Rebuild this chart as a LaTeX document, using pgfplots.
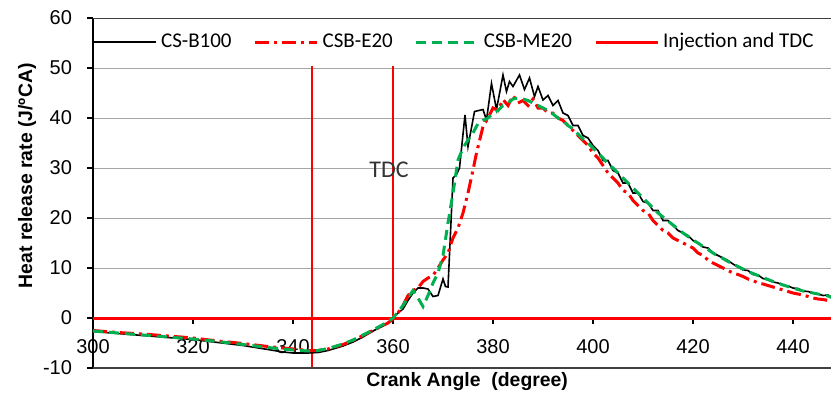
\documentclass[border=0pt]{standalone}
\usepackage{fontspec}
\setmainfont{Liberation Sans}
\newfontfamily\calibri{Carlito}
\usepackage{pgfplots}
\pgfplotsset{compat=1.18}
\definecolor{exgreen}{RGB}{0,176,80}
\definecolor{exred}{RGB}{255,0,0}
\begin{document}
\begin{tikzpicture}
\begin{axis}[
  scale only axis,
  width=369pt, height=175pt,
  xmin=300, xmax=447.6, ymin=-10, ymax=60,
  axis x line=middle, axis y line=left,
  hide obscured x ticks=false,
  axis line style={-, black, line width=0.8pt},
  xtick={300,320,...,440}, ytick={-10,0,...,60},
  tick align=outside, major tick length=3pt,
  tick style={black, line width=0.8pt},
  ymajorgrids, grid style={gray!70, line width=0.5pt},
  /pgf/number format/assume math mode=true,
  tick label style={font=\fontsize{10}{12}\selectfont},
  xticklabel style={yshift=-4pt},
  yticklabel style={xshift=-4pt},
  every axis y label/.style={at={(axis description cs:0,0.549)}, xshift=-33pt, rotate=90, anchor=center},
  every axis x label/.style={at={(axis description cs:0.507,0)}, yshift=-7pt, anchor=center},
  label style={font=\bfseries\fontsize{9.7}{11}\selectfont},
  xlabel={Crank Angle\ \ (degree)},
  ylabel={Heat release rate (J/ºCA)},
  clip=true,
  legend columns=4,
  legend style={draw=none, fill=none, font=\calibri\fontsize{10.5}{12}\selectfont,
    at={(axis description cs:-0.008,0.931)}, anchor=west,
    /tikz/every even column/.append style={column sep=9pt}},
  legend image code/.code={\draw[#1] (0pt,0pt) -- (31pt,0pt);},
]
\addplot[color=exred, line width=1.5pt, forget plot] coordinates {(300,0) (447.6,0)};
\addplot[color=exred, line width=0.6pt, forget plot] coordinates {(343.8,-10) (343.8,50.4)};
\addplot[color=exred, line width=0.6pt, forget plot] coordinates {(360,0) (360,50.4)};

\addplot[black, line width=0.8pt] coordinates {
(300,-2.7) (305,-3.1) (310,-3.5) (315,-3.9) (320,-4.3) (325,-4.9) (330,-5.5) (335,-6.3)
(338,-6.8) (340,-7.0) (343,-7.0) (345,-6.9) (347,-6.5) (350,-5.6) (352,-4.8) (354,-3.8)
(356,-2.6) (358,-1.6) (359,-0.9) (360,0) (361,1) (362,1.8) (363,3.5) (364,5) (365,6)
(366,6) (367,5.8) (368,4.3) (369,4.5) (370,7.8) (370.5,6.3) (371,6.2) (371.5,17) (372,28)
(372.7,28.7) (373.3,30) (374.4,40.6) (375,34.3) (376.3,41.3) (378,41.7) (378.7,39.6)
(379.7,46.9) (380.7,41.7) (382,48.6) (382.7,45.3) (383.3,47.3) (384,46.3) (385.3,48.6)
(386.3,45.7) (387.3,48) (388.3,44.3) (389,46.3) (390,43.6) (391,44.5) (392,42.5)
(393,43.5) (394,41) (395,40.5) (396,38.5) (397,38.5) (398,36.5) (399,36) (400,34.5)
(401,33.5) (402,31.5) (403,31.5) (404,29.5) (405,29) (406,27) (407,27) (408,25) (409,25)
(410,23.3) (411,23) (412,21.5) (413,21.5) (414,19.5) (415,19.5) (416,18.5) (417,17.5)
(418,17) (419,16.5) (420,15.5) (421,15) (422,14.2) (423,14) (424,13) (425,12.5) (426,12)
(427,11.5) (428,10.8) (429,10.2) (430,9.6) (431,9.5) (432,8.7) (433,8.6) (434,7.9)
(435,7.6) (436,7.2) (437,7) (438,6.6) (439,6.4) (440,6) (441,5.9) (442,5.4) (443,5.3)
(444,5) (445,4.8) (446,4.5) (447,4.6) (448,4)
};
\addlegendentry{CS-B100}

\addplot[color=exred, line width=1.5pt, dash pattern=on 7pt off 2.5pt on 1.5pt off 2.5pt] coordinates {
(300,-2.5) (305,-2.9) (310,-3.2) (315,-3.6) (320,-4.0) (325,-4.6) (330,-5.1) (335,-5.7)
(340,-6.2) (343,-6.5) (345,-6.5) (347,-6.2) (350,-5.3) (352,-4.5) (354,-3.5) (356,-2.5)
(358,-1.5) (359,-1.0) (360,-0.2) (361,1) (362,2.5) (363,4.5) (364,5.5) (365,6) (366,7.3)
(367,8) (368,8.5) (369,10) (370,11.6) (371,13) (372,16) (373,18) (374,21) (375,25)
(376,29.6) (376.7,33) (378,38.3) (379,40) (380,42) (381,41.5) (382,43.7) (383,42.5)
(384,44.5) (385,43) (386,43.5) (387,42.5) (388,43.8) (389,42) (390,42) (391,41) (392,41)
(393,40) (394,39.5) (395,38.5) (396,37.5) (397,36.5) (398,35.5) (399,34.5) (400,33)
(401,32) (402,30.5) (403,29) (404,28) (405,27) (406,25.5) (407,25) (408,23.5) (409,22.5)
(410,21.5) (411,21) (412,19.5) (413,18.5) (414,17.5) (415,17) (416,16) (417,15.5) (418,15)
(419,14.5) (420,14) (421,13) (422,12.5) (423,11.6) (424,11) (425,10.5) (426,10) (427,9.5)
(428,9) (429,8.7) (430,8.3) (431,7.8) (432,7.5) (433,7) (434,6.8) (435,6.5) (436,6.2)
(437,5.9) (438,5.6) (439,5.3) (440,5) (441,4.8) (442,4.6) (443,4.3) (444,4) (445,3.8)
(446,3.7) (447,3.5) (448,3.4)
};
\addlegendentry{CSB-E20}

\addplot[exgreen, line width=1.5pt, dash pattern=on 5pt off 3pt] coordinates {
(300,-2.6) (305,-3.0) (310,-3.4) (315,-3.8) (320,-4.2) (325,-4.7) (330,-5.3) (335,-5.9)
(340,-6.4) (343,-6.6) (345,-6.5) (347,-6.1) (350,-5.2) (352,-4.4) (354,-3.4) (356,-2.4)
(358,-1.3) (360,0) (361,1.2) (362,2.5) (363,4) (364,5.5) (365,4) (366,2.3) (367,4.5)
(368,7) (369,9) (370,12.5) (371,19) (372,25) (373,31.6) (374,34) (375,35.6) (376,37)
(377,38.9) (378,39.5) (379,40) (380,41) (381,41.5) (382,42.5) (383,43) (384,43.8) (385,44)
(386,43.8) (387,43.5) (388,43) (389,42.5) (390,42) (391,41.5) (392,40.8) (393,40)
(394,39.5) (395,38.5) (396,37.8) (397,36.8) (398,35.8) (399,35) (400,34) (401,33) (402,32)
(403,30.8) (404,30) (405,29) (406,28) (407,27) (408,26) (409,25) (410,24) (411,23) (412,22)
(413,21) (414,20.2) (415,19.4) (416,18.6) (417,17.8) (418,17) (419,16.3) (420,15.6)
(421,15) (422,14.3) (423,13.7) (424,13) (425,12.4) (426,11.9) (427,11.3) (428,10.8)
(429,10.3) (430,9.8) (431,9.3) (432,8.9) (433,8.5) (434,8.1) (435,7.7) (436,7.3) (437,7)
(438,6.6) (439,6.3) (440,6) (441,5.7) (442,5.4) (443,5.2) (444,5) (445,4.8) (446,4.6)
(447,4.4) (448,4)
};
\addlegendentry{CSB-ME20}

\addlegendimage{color=exred, line width=1.5pt}
\addlegendentry{Injection and TDC}

\draw[black!75, line width=0.8pt] (rel axis cs:0,0) -- (rel axis cs:1,0);
\draw[black!75, line width=0.8pt] (rel axis cs:0,1) -- (rel axis cs:1,1);
\node[font=\calibri\fontsize{12}{14}\selectfont, text=black!80] at (axis cs:359.2,29.6) {TDC};
\end{axis}
\pgfresetboundingbox
\useasboundingbox (-46.5pt,-15pt) rectangle (369pt,184pt);
\end{tikzpicture}
\end{document}
